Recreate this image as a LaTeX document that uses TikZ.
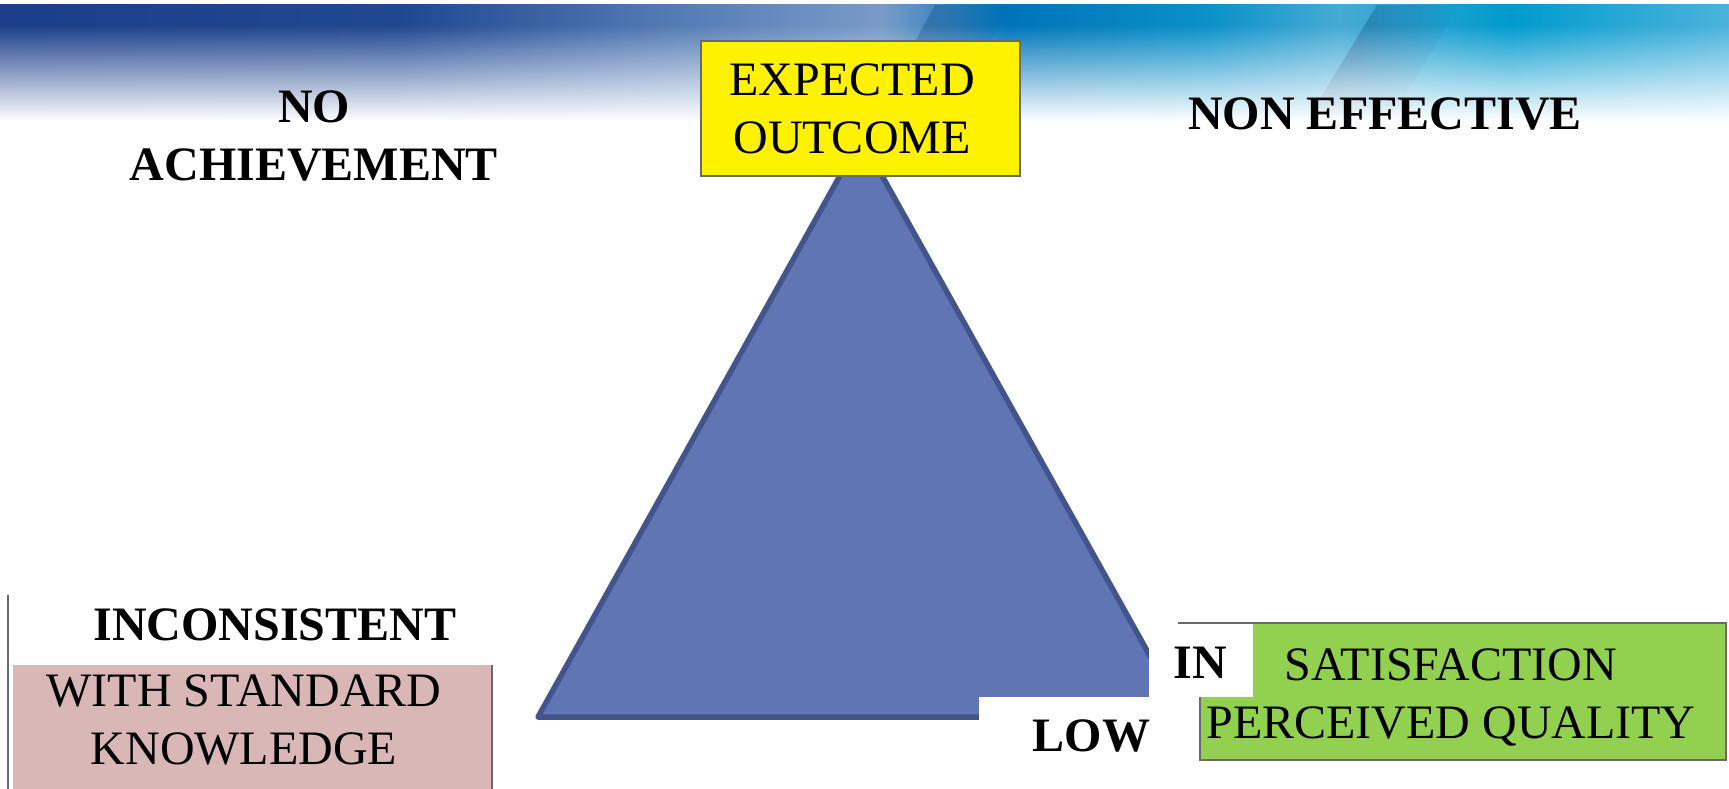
\documentclass[tikz,border=0pt]{standalone}
\usepackage{fontspec}
\setmainfont{Liberation Serif}
\usepackage{tikz}
\usetikzlibrary{fadings}
\definecolor{trifill}{RGB}{96,118,180}
\definecolor{triline}{RGB}{66,84,138}
\definecolor{pinkfill}{RGB}{217,183,183}
\definecolor{greenfill}{RGB}{146,208,80}
\definecolor{boxgray}{RGB}{105,105,105}
\definecolor{deepblue}{RGB}{0,55,110}
\pgfdeclarehorizontalshading{bannershade}{100bp}{
  color(0bp)=(rgb,255:red,28;green,62;blue,138);
  color(25bp)=(rgb,255:red,28;green,62;blue,138);
  color(36.6bp)=(rgb,255:red,32;green,72;blue,145);
  color(43.8bp)=(rgb,255:red,80;green,120;blue,178);
  color(50.4bp)=(rgb,255:red,120;green,155;blue,200);
  color(53.9bp)=(rgb,255:red,0;green,115;blue,185);
  color(59.7bp)=(rgb,255:red,10;green,145;blue,200);
  color(63.5bp)=(rgb,255:red,70;green,170;blue,212);
  color(68.4bp)=(rgb,255:red,0;green,155;blue,205);
  color(75bp)=(rgb,255:red,80;green,180;blue,220);
  color(100bp)=(rgb,255:red,80;green,180;blue,220)}
\tikzfading[name=bannerfade, top color=transparent!100, bottom color=transparent!0]
\tikzfading[name=fadeout, left color=transparent!0, right color=transparent!100]
\tikzset{
    mytext/.style = {inner sep=0pt, align=center, font=\fontsize{48}{58}\selectfont},
    mytextb/.style = {mytext, font=\fontsize{48}{58}\selectfont\bfseries},
    boxline/.style = {draw=boxgray, line width=1.5pt},
    yellowbox/.style = {boxline, fill=yellow},
    greenbox/.style = {boxline, fill=greenfill},
    pinkbox/.style = {fill=pinkfill},
    whitebox/.style = {fill=white},
    darkstreak/.style = {fill=deepblue, opacity=0.45, path fading=fadeout},
    tri/.style = {fill=trifill, draw=triline, line width=5.5pt, line join=round}
}
\begin{document}
\begin{tikzpicture}[x=1pt,y=-1pt]
\useasboundingbox (0,0) rectangle (1729,789);
%
\shade[shading=bannershade] (-5,5) rectangle (1740,120);
\fill[darkstreak] (935,5) -- (1010,5) -- (950,115) -- (875,115) -- cycle;
\fill[darkstreak] (1377,5) -- (1460,5) -- (1393,115) -- (1310,115) -- cycle;
\fill[white, path fading=bannerfade] (-5,25) rectangle (1740,121);
%
\coordinate (apex) at (861,138);
\coordinate (left) at (538,717);
\coordinate (right) at (1184,717);
\filldraw[tri] (apex) -- (left) -- (right) -- cycle;
%
\fill[whitebox] (979,697) rectangle (1199,789);
\filldraw[greenbox] (1200,623) rectangle (1726,760);
\fill[whitebox] (1149,624) rectangle (1253,697);
\draw[boxline] (1178,623) -- (1253,623);
\fill[pinkbox] (13,665) rectangle (492,789);
\draw[boxline] (492,665) -- (492,789);
\draw[boxline] (8,595) -- (8,789);
\filldraw[yellowbox] (701,41) rectangle (1020,176);
%
\node[mytextb] at (314,135.5) (noach) {NO\\ACHIEVEMENT};
\node[mytext] at (852,108.5) (expected) {EXPECTED\\OUTCOME};
\node[mytextb] at (1385,114) (noneff) {NON EFFECTIVE};
\node[mytextb] at (275,625) (incon) {INCONSISTENT};
\node[mytext] at (244,720) (stdknow) {WITH STANDARD\\KNOWLEDGE};
\node[mytextb] at (1091.5,736) (low) {LOW};
\node[mytextb] at (1200,663) (in) {IN};
\node[mytext] at (1451,697) (satis) {SATISFACTION\\PERCEIVED QUALITY};
\end{tikzpicture}
\end{document}
